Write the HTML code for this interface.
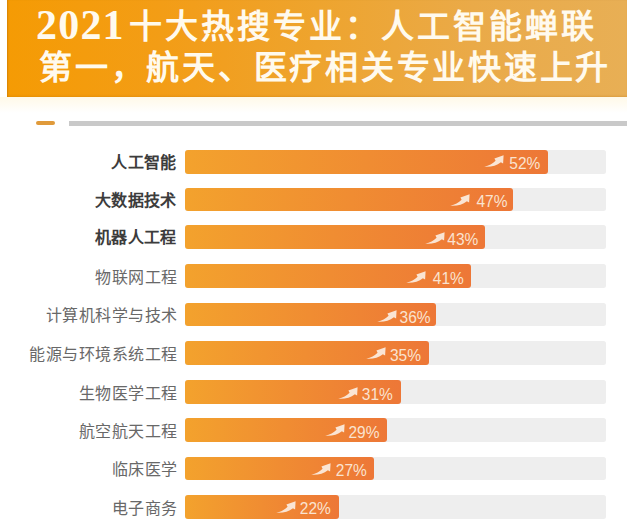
<!DOCTYPE html>
<html lang="zh-CN"><head><meta charset="utf-8">
<style>
html,body{margin:0;padding:0;background:#fff;width:627px;height:521px;overflow:hidden;position:relative}
body{font-family:"Liberation Sans",sans-serif}
.hdr{position:absolute;left:7px;top:0;width:620px;height:97px;background:linear-gradient(90deg,#F59B04 0%,#F39D16 25%,#F19F20 35%,#EEA42E 50%,#EAAA48 75%,#E8AF55 100%);box-shadow:inset 0 -1.5px 1px rgba(190,110,0,0.15),inset 1.2px 0 1px rgba(150,80,0,0.25)}
.t{position:absolute;color:#FFFAEE;font-family:"Liberation Serif",serif;font-weight:bold;line-height:36px;white-space:nowrap}
.dg{font-size:42px}
.cj{font-size:33px}
.dash{position:absolute;left:36px;top:121.3px;width:19px;height:4px;border-radius:2px;background:#E09A3A}
.gl{position:absolute;left:69px;top:121px;width:558px;height:4.5px;background:#C9C9C9}
.glow{position:absolute;left:0;top:97px;width:627px;height:16px;background:linear-gradient(180deg,#FFF9E8,#FFFFFF)}
.row{position:absolute;left:0;width:627px;height:23.5px}
.lab{position:absolute;right:449.5px;top:1.5px;height:23.5px;line-height:24px;font-size:16px;letter-spacing:0.5px;color:#686868;white-space:nowrap}
.lab.b{color:#3c3c3c;font-weight:700;letter-spacing:0.2px;right:450.8px;top:1px}
.track{position:absolute;left:185px;top:0;width:420.5px;height:23.5px;background:#EEEEEE;border-radius:2.5px}
.bar{position:absolute;left:185px;top:0;height:23.5px;border-radius:3px;background:linear-gradient(90deg,#F3A22D,#ED7737)}
.ar{position:absolute}
.pt{position:absolute;font-size:15.5px;letter-spacing:0;color:#FAE3D0;line-height:20px;white-space:nowrap;transform:scaleY(1.12);transform-origin:0 0}
</style></head><body>
<div class="glow"></div><div class="hdr"></div>
<div class="t dg" style="top:7px;left:36px;letter-spacing:1.2px">2021</div>
<div class="t cj" style="top:8.5px;left:129px;letter-spacing:3px">十大热搜专业：人工智能蝉联</div>
<div class="t cj" style="top:50px;left:39px;letter-spacing:2.75px">第一，航天、医疗相关专业快速上升</div>
<div class="dash"></div><div class="gl"></div>
<div class="row" style="top:150px">
<div class="lab b">人工智能</div>
<div class="track"></div>
<div class="bar" style="width:363.0px"><svg class="ar" style="left:298.9px;top:5.4px" viewBox="0 0 20 13" width="20" height="12" preserveAspectRatio="none"><path d="M0.2 12.6 C5 11.6 8.6 9.6 11.6 6.3 L10.4 3.9 L19.6 0.3 L19.1 9.3 L16.9 7.9 C12.6 11.8 6.5 13.1 0.2 12.6 Z" fill="#FAE5D4"/></svg><span class="pt" style="left:324.3px;top:1.6px">52%</span></div>
</div><div class="row" style="top:187.5px">
<div class="lab b">大数据技术</div>
<div class="track"></div>
<div class="bar" style="width:328.1px"><svg class="ar" style="left:264.8px;top:6.4px" viewBox="0 0 20 13" width="20" height="12" preserveAspectRatio="none"><path d="M0.2 12.6 C5 11.6 8.6 9.6 11.6 6.3 L10.4 3.9 L19.6 0.3 L19.1 9.3 L16.9 7.9 C12.6 11.8 6.5 13.1 0.2 12.6 Z" fill="#FAE5D4"/></svg><span class="pt" style="left:291.4px;top:2.5px">47%</span></div>
</div><div class="row" style="top:225px">
<div class="lab b">机器人工程</div>
<div class="track"></div>
<div class="bar" style="width:300.1px"><svg class="ar" style="left:239.8px;top:6.7px" viewBox="0 0 20 13" width="20" height="12" preserveAspectRatio="none"><path d="M0.2 12.6 C5 11.6 8.6 9.6 11.6 6.3 L10.4 3.9 L19.6 0.3 L19.1 9.3 L16.9 7.9 C12.6 11.8 6.5 13.1 0.2 12.6 Z" fill="#FAE5D4"/></svg><span class="pt" style="left:262.3px;top:2.6px">43%</span></div>
</div><div class="row" style="top:264px">
<div class="lab">物联网工程</div>
<div class="track"></div>
<div class="bar" style="width:286.2px"><svg class="ar" style="left:221.4px;top:6.5px" viewBox="0 0 20 13" width="20" height="12" preserveAspectRatio="none"><path d="M0.2 12.6 C5 11.6 8.6 9.6 11.6 6.3 L10.4 3.9 L19.6 0.3 L19.1 9.3 L16.9 7.9 C12.6 11.8 6.5 13.1 0.2 12.6 Z" fill="#FAE5D4"/></svg><span class="pt" style="left:247.8px;top:2.6px">41%</span></div>
</div><div class="row" style="top:302.5px">
<div class="lab">计算机科学与技术</div>
<div class="track"></div>
<div class="bar" style="width:251.3px"><svg class="ar" style="left:191.5px;top:7.1px" viewBox="0 0 20 13" width="20" height="12" preserveAspectRatio="none"><path d="M0.2 12.6 C5 11.6 8.6 9.6 11.6 6.3 L10.4 3.9 L19.6 0.3 L19.1 9.3 L16.9 7.9 C12.6 11.8 6.5 13.1 0.2 12.6 Z" fill="#FAE5D4"/></svg><span class="pt" style="left:214.6px;top:3.1px">36%</span></div>
</div><div class="row" style="top:341.2px">
<div class="lab">能源与环境系统工程</div>
<div class="track"></div>
<div class="bar" style="width:244.3px"><svg class="ar" style="left:180.7px;top:5.9px" viewBox="0 0 20 13" width="20" height="12" preserveAspectRatio="none"><path d="M0.2 12.6 C5 11.6 8.6 9.6 11.6 6.3 L10.4 3.9 L19.6 0.3 L19.1 9.3 L16.9 7.9 C12.6 11.8 6.5 13.1 0.2 12.6 Z" fill="#FAE5D4"/></svg><span class="pt" style="left:204.9px;top:2.4px">35%</span></div>
</div><div class="row" style="top:380px">
<div class="lab">生物医学工程</div>
<div class="track"></div>
<div class="bar" style="width:216.4px"><svg class="ar" style="left:152.5px;top:6.6px" viewBox="0 0 20 13" width="20" height="12" preserveAspectRatio="none"><path d="M0.2 12.6 C5 11.6 8.6 9.6 11.6 6.3 L10.4 3.9 L19.6 0.3 L19.1 9.3 L16.9 7.9 C12.6 11.8 6.5 13.1 0.2 12.6 Z" fill="#FAE5D4"/></svg><span class="pt" style="left:176.8px;top:2.6px">31%</span></div>
</div><div class="row" style="top:418.3px">
<div class="lab">航空航天工程</div>
<div class="track"></div>
<div class="bar" style="width:202.4px"><svg class="ar" style="left:139.7px;top:5.8px" viewBox="0 0 20 13" width="20" height="12" preserveAspectRatio="none"><path d="M0.2 12.6 C5 11.6 8.6 9.6 11.6 6.3 L10.4 3.9 L19.6 0.3 L19.1 9.3 L16.9 7.9 C12.6 11.8 6.5 13.1 0.2 12.6 Z" fill="#FAE5D4"/></svg><span class="pt" style="left:163.5px;top:2.3px">29%</span></div>
</div><div class="row" style="top:456.6px">
<div class="lab">临床医学</div>
<div class="track"></div>
<div class="bar" style="width:188.5px"><svg class="ar" style="left:125.7px;top:6.2px" viewBox="0 0 20 13" width="20" height="12" preserveAspectRatio="none"><path d="M0.2 12.6 C5 11.6 8.6 9.6 11.6 6.3 L10.4 3.9 L19.6 0.3 L19.1 9.3 L16.9 7.9 C12.6 11.8 6.5 13.1 0.2 12.6 Z" fill="#FAE5D4"/></svg><span class="pt" style="left:150.8px;top:2.4px">27%</span></div>
</div><div class="row" style="top:495.2px">
<div class="lab">电子商务</div>
<div class="track"></div>
<div class="bar" style="width:153.6px"><svg class="ar" style="left:91.2px;top:5.9px" viewBox="0 0 20 13" width="20" height="12" preserveAspectRatio="none"><path d="M0.2 12.6 C5 11.6 8.6 9.6 11.6 6.3 L10.4 3.9 L19.6 0.3 L19.1 9.3 L16.9 7.9 C12.6 11.8 6.5 13.1 0.2 12.6 Z" fill="#FAE5D4"/></svg><span class="pt" style="left:114.8px;top:2.3px">22%</span></div>
</div>
</body></html>
